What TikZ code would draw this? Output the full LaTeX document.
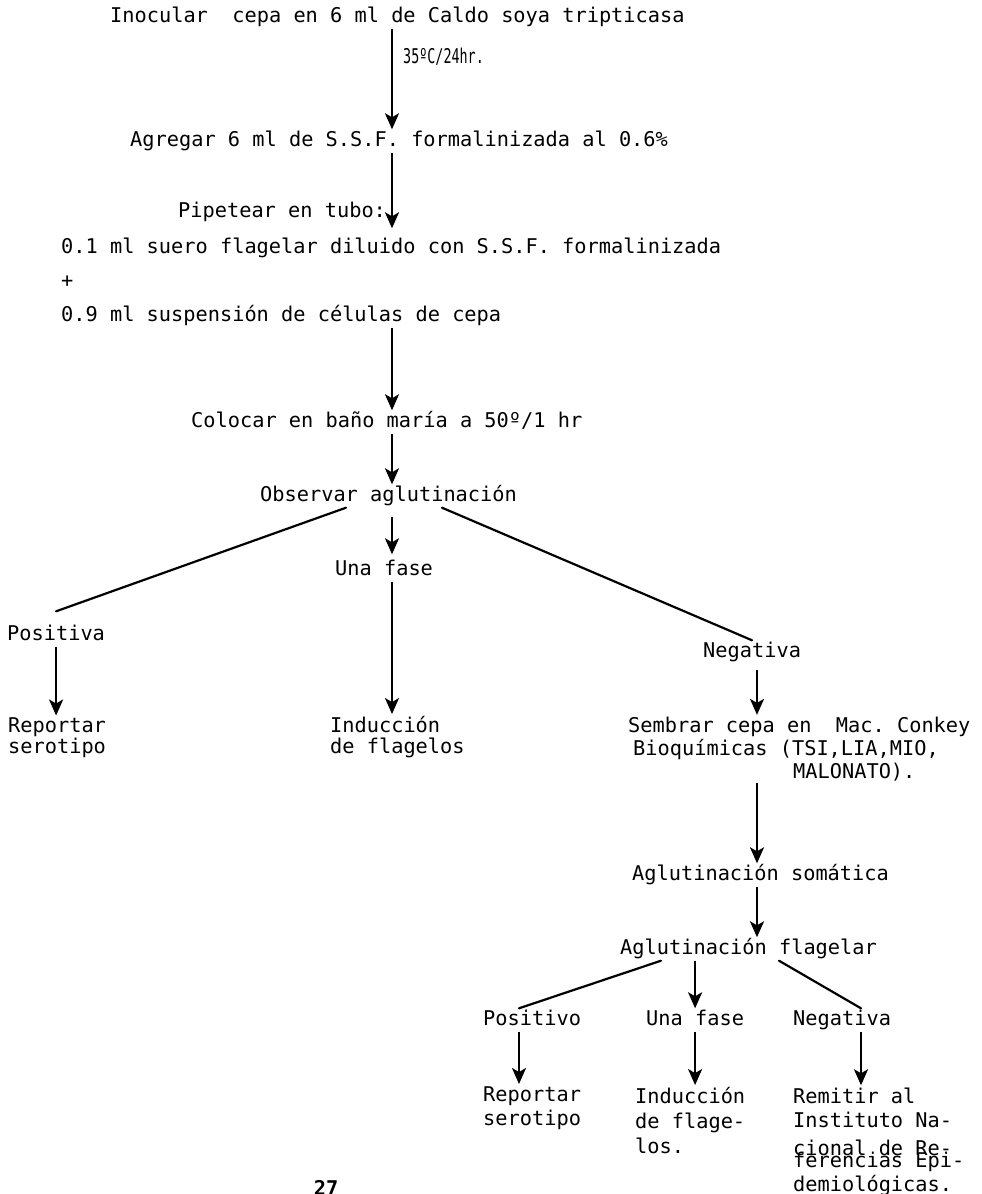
\documentclass[tikz,border=0pt]{standalone}
\usepackage{fontspec}
\setmonofont{DejaVu Sans Mono}
\usepackage{graphicx}
\usepackage{tikz}
\usetikzlibrary{positioning}
\usetikzlibrary{arrows.meta}

\newcommand{\letra}{\ttfamily\fontsize{20.3}{24.5}\selectfont}
\newcommand{\letrade}[1]{\ttfamily\fontsize{20.3}{#1}\selectfont}

\begin{document}
\begin{tikzpicture}[x=1pt, y=-1pt,
  texto/.style={anchor=west, inner sep=2pt, font=\letra, text height=15pt, text depth=4pt},
  bloque/.style={anchor=base west, inner sep=2pt, align=left},
  flecha/.style={-{Stealth[length=16pt, width=14pt, inset=4pt]}, line width=2.2pt},
  rama/.style={line width=2.2pt, line cap=round}]
  \useasboundingbox (0,0) rectangle (982,1194);

  \coordinate (eje) at (392,0);
  \coordinate (ejeneg) at (757,0);
  \coordinate (ejepos) at (519,0);
  \coordinate (ejenegb) at (861,0);

  \node[texto] at (108,17) (inocular) {Inocular\ \ cepa en 6 ml de Caldo soya tripticasa};
  \node[texto] at (401,58) (temp) {\scalebox{0.66}[1]{35ºC/24hr.}};
  \node[texto] at (128,141) (agregar) {Agregar 6 ml de S.S.F. formalinizada al 0.6\%};
  \node[texto] at (176,212) (pipetear) {Pipetear en tubo:};
  \node[texto] at (59,248) (suero) {0.1 ml suero flagelar diluido con S.S.F. formalinizada};
  \node[texto] at (59,282) (mas) {+};
  \node[texto] at (59,316) (suspension) {0.9 ml suspensión de células de cepa};
  \node[texto] at (189,422) (colocar) {Colocar en baño maría a 50º/1 hr};
  \node[texto] at (258,496) (observar) {Observar aglutinación};

  \node[texto] at (5,635) (positiva) {Positiva};
  \node[texto] at (333,570) (fase) {Una fase};
  \node[texto] at (701,652) (negativa) {Negativa};

  \node[bloque, font=\letrade{21}] at (6,753.5) (reportar) {Reportar\\serotipo};
  \node[bloque, font=\letrade{21}] at (328,753.5) (induccion) {Inducción\\de flagelos};
  \node[bloque, font=\letrade{23}] at (626,778.5) (sembrar)
    {Sembrar cepa en\ \ Mac. Conkey\\\hspace*{5pt}Bioquímicas (TSI,LIA,MIO,\\\hspace*{165pt}MALONATO).};

  \node[texto] at (630,875) (somatica) {Aglutinación somática};
  \node[texto] at (618,949) (flagelar) {Aglutinación flagelar};

  \node[texto] at (481,1020) (positivo) {Positivo};
  \node[texto] at (644,1020) (faseb) {Una fase};
  \node[texto] at (791,1020) (negativab) {Negativa};

  \node[bloque, font=\letrade{24.5}] at (481,1125.5) (reportarb) {Reportar\\serotipo};
  \node[bloque, font=\letrade{25}] at (633,1153.5) (induccionb) {Inducción\\de flage-\\los.};
  \node[bloque, font=\letrade{24.5}] at (791,1191.5) (remitir)
    {Remitir al\\Instituto Na-\\[3pt]cional de Re-\\[-12.5pt]ferencias Epi-\\demiológicas.};

  \node[anchor=base, inner sep=0pt, font=\ttfamily\bfseries\fontsize{20.3}{24}\selectfont] at (326,1195) (pagina) {27};

  % tronco principal
  \draw[flecha] (inocular.south -| eje) -- (agregar.north -| eje);
  \draw[flecha, shorten >=8pt] (agregar.south -| eje) -- (suero.north -| eje);
  \draw[flecha] (suspension.south -| eje) -- (colocar.north -| eje);
  \draw[flecha] (colocar.south -| eje) -- (observar.north -| eje);

  % primera division
  \draw[rama] ([xshift=88pt]observar.south west) -- ([yshift=12pt]positiva.north);
  \draw[flecha, shorten <=9pt, shorten >=4pt] (observar.south -| eje) -- (fase.north -| eje);
  \draw[rama] ([xshift=184pt]observar.south west) -- (negativa.north);

  \draw[flecha] (positiva.south) -- (positiva.south |- reportar.north);
  \draw[flecha] (fase.south -| eje) -- (induccion.north -| eje);
  \draw[flecha, shorten <=6pt] (negativa.south -| ejeneg) -- (sembrar.north -| ejeneg);
  \draw[flecha] (sembrar.south -| ejeneg) -- (somatica.north -| ejeneg);
  \draw[flecha] (somatica.south -| ejeneg) -- (flagelar.north -| ejeneg);

  % segunda division
  \draw[rama] ([xshift=43pt]flagelar.south west) -- (positivo.north -| ejepos);
  \draw[flecha] (flagelar.south -| faseb) -- (faseb.north);
  \draw[rama] ([xshift=161pt]flagelar.south west) -- (negativab.north -| ejenegb);

  \draw[flecha] (positivo.south -| ejepos) -- (reportarb.north -| ejepos);
  \draw[flecha] (faseb.south) -- (faseb.south |- induccionb.north);
  \draw[flecha] (negativab.south -| ejenegb) -- (remitir.north -| ejenegb);
\end{tikzpicture}
\end{document}
